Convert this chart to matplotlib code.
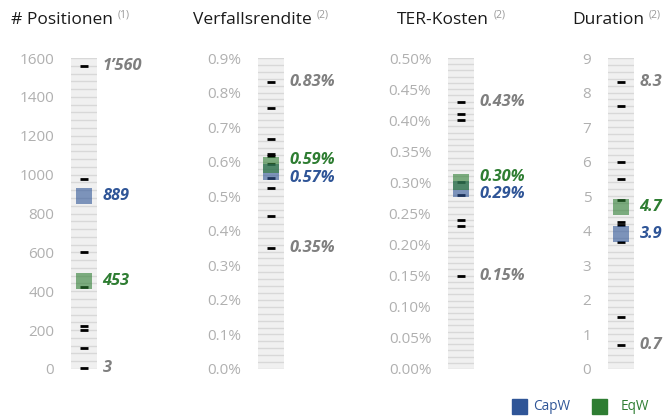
import matplotlib
matplotlib.use("Agg")
import matplotlib.pyplot as plt

plt.rcParams['font.family'] = ['Open Sans', 'DejaVu Sans']

# ---------------- data ----------------
titles = ["# Positionen", "Verfallsrendite", "TER-Kosten", "Duration"]
notes = ["(1)", "(2)", "(2)", "(2)"]

pos_values = [1560, 975, 600, 420, 222, 200, 108, 3]
ytm_values = [0.83, 0.755, 0.665, 0.623, 0.616, 0.594, 0.554, 0.525, 0.443, 0.35]
ter_values = [0.43, 0.41, 0.40, 0.30, 0.28, 0.24, 0.23, 0.15]
dur_values = [8.3, 7.6, 6.0, 5.5, 4.9, 4.26, 4.18, 3.68, 1.5, 0.7]

capw = [889, 0.57, 0.29, 3.9]
eqw = [453, 0.59, 0.30, 4.7]

capw_labels = ["889", "0.57%", "0.29%", "3.9"]
eqw_labels = ["453", "0.59%", "0.30%", "4.7"]
min_labels = ["3", "0.35%", "0.15%", "0.7"]
max_labels = ["1\u2019560", "0.83%", "0.43%", "8.3"]

y_max = [1600, 0.9, 0.5, 9]
y_step = [200, 0.1, 0.05, 1]
tick_fmt = ["{:.0f}", "{:.1f}%", "{:.2f}%", "{:.0f}"]
stripe_step = [40, 0.02, 0.01, 0.2]

series_values = [pos_values, ytm_values, ter_values, dur_values]
legend_names = ["CapW", "EqW"]

# ---------------- style ----------------
W, H = 670, 418
BLUE = "#2f5597"
GREEN = "#2e7d32"
GRAY_LBL = "#7f7f7f"
TICK_GRAY = "#b0b0b0"

col_left_px = [71, 258, 448, 608]
title_x_px = [11, 193, 397, 572]
col_w_px = 26
top_px, bot_px = 58, 369

fig = plt.figure(figsize=(W / 100, H / 100), dpi=100)

def fx(px):
    return px / W

def fy(py):
    return 1 - py / H

# label vertical offsets in points (to separate close labels)
eq_off = [0, 4, 4, 0]
cap_off = [0, -4, -4, 0]

for i in range(4):
    ax = fig.add_axes([fx(col_left_px[i]), fy(bot_px), fx(col_w_px), (bot_px - top_px) / H])
    ax.set_facecolor("#f0f0f0")
    ax.set_xlim(0, 1)
    ax.set_ylim(0, y_max[i])
    for s in ax.spines.values():
        s.set_visible(False)
    ax.set_xticks([])
    n_ticks = int(round(y_max[i] / y_step[i])) + 1
    ticks = [k * y_step[i] for k in range(n_ticks)]
    ax.set_yticks(ticks)
    ax.set_yticklabels([tick_fmt[i].format(t) for t in ticks])
    ax.tick_params(axis='y', length=0, pad=12, labelsize=11, labelcolor=TICK_GRAY)

    n_str = int(round(y_max[i] / stripe_step[i]))
    for k in range(n_str + 1):
        ax.axhline(k * stripe_step[i], color="#d8d8d8", lw=1.0, zorder=1)

    vals = series_values[i]
    ax.plot([0.5] * len(vals), vals, linestyle='none', marker='_', markersize=6,
            markeredgewidth=2.0, color='black', zorder=3, clip_on=False)

    ax.plot([0.5], [capw[i]], linestyle='none', marker='s', markersize=11.2,
            markeredgewidth=0, color=BLUE, alpha=0.6, zorder=4, clip_on=False)
    ax.plot([0.5], [eqw[i]], linestyle='none', marker='s', markersize=11.2,
            markeredgewidth=0, color=GREEN, alpha=0.6, zorder=5, clip_on=False)

    kw = dict(textcoords='offset points', va='center', ha='left', fontsize=11.8,
              fontweight='bold', fontstyle='italic', annotation_clip=False)
    ax.annotate(max_labels[i], xy=(1, max(vals)), xytext=(4, 0), color=GRAY_LBL, **kw)
    ax.annotate(min_labels[i], xy=(1, min(vals)), xytext=(4, 0), color=GRAY_LBL, **kw)
    ax.annotate(capw_labels[i], xy=(1, capw[i]), xytext=(4, cap_off[i]), color=BLUE, **kw)
    ax.annotate(eqw_labels[i], xy=(1, eqw[i]), xytext=(4, eq_off[i]), color=GREEN, **kw)

    # title + superscript note
    t = fig.text(fx(title_x_px[i]), fy(20), titles[i], fontsize=12.5, color="#1a1a1a",
                 ha='left', va='center')
    fig.canvas.draw()
    bb = t.get_window_extent()
    fig.text((bb.x1 + 5) / W, fy(15), notes[i], fontsize=7.5, color="#999999",
             ha='left', va='center')

# legend
fig.patches.append(plt.Rectangle((fx(512), fy(414)), fx(15), 15 / H, color=BLUE,
                                 transform=fig.transFigure, figure=fig))
fig.text(fx(533), fy(407), legend_names[0], fontsize=9.8, color=BLUE, ha='left', va='center')
fig.patches.append(plt.Rectangle((fx(592), fy(414)), fx(15), 15 / H, color=GREEN,
                                 transform=fig.transFigure, figure=fig))
fig.text(fx(621), fy(407), legend_names[1], fontsize=9.8, color=GREEN, ha='left', va='center')

fig.savefig("out.png", dpi=100)
